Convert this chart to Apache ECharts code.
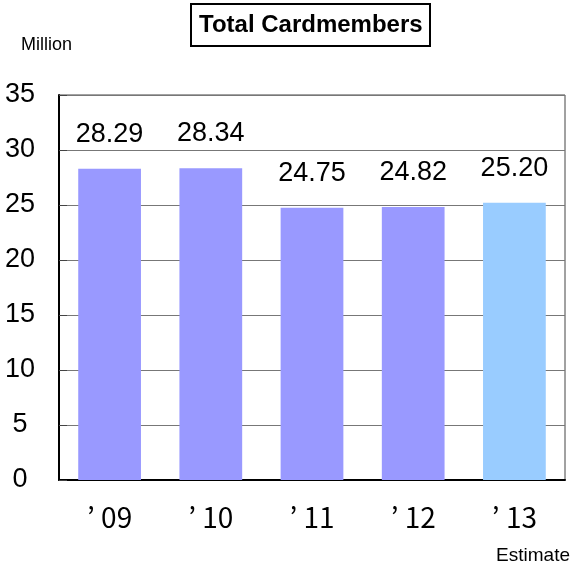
<!DOCTYPE html>
<html>
<head>
<meta charset="utf-8">
<script src="https://cdn.jsdelivr.net/npm/echarts@6/dist/echarts.min.js"></script>
<style>
  html, body { margin: 0; padding: 0; background: #fff; }
  #main { width: 571px; height: 571px; }
</style>
</head>
<body>
<div id="main"></div>
<script>
// chart data
var years = ['\u201909', '\u201910', '\u201911', '\u201912', '\u201913'];
var members = [28.29, 28.34, 24.75, 24.82, 25.20];
var barColors = ['#9999FF', '#9999FF', '#9999FF', '#9999FF', '#99CCFF'];
var yTicks = [0, 5, 10, 15, 20, 25, 30, 35];

var font = '"Liberation Sans", Arial, sans-serif';
var jpFont = '"Noto Sans CJK JP", sans-serif';

var chart = echarts.init(document.getElementById('main'));
chart.setOption({
    animation: false,
    title: {
        text: 'Total Cardmembers',
        left: 191,
        top: 4,
        borderColor: '#000',
        borderWidth: 2,
        padding: [9, 8, 9, 8],
        textStyle: { fontFamily: font, fontSize: 24, fontWeight: 'bold', color: '#000' }
    },
    graphic: [
        { type: 'text', left: 21, top: 36, style: { text: 'Million', font: '18px ' + font, fill: '#000' } },
        { type: 'text', right: 1, top: 546, style: { text: 'Estimate', font: '19px ' + font, fill: '#000' } }
    ],
    grid: {
        left: 59, right: 6, top: 95, bottom: 91,
        show: true, borderColor: '#444', borderWidth: 1
    },
    xAxis: {
        type: 'category',
        data: years,
        axisLine: { lineStyle: { color: '#000', width: 2 } },
        axisTick: { inside: true, length: 8, lineStyle: { color: '#666' } },
        axisLabel: {
            margin: 23, fontFamily: jpFont, fontSize: 28, color: '#000',
            formatter: function (v) { return v.replace('\u2019', '\u2019 '); }
        }
    },
    yAxis: {
        type: 'value',
        min: yTicks[0],
        max: yTicks[yTicks.length - 1],
        interval: 5,
        axisLine: { show: true, lineStyle: { color: '#000', width: 2 } },
        axisTick: { show: true, inside: true, length: 8, lineStyle: { color: '#444' } },
        splitLine: { lineStyle: { color: '#777', width: 1 } },
        axisLabel: { margin: 39, align: 'center', fontFamily: font, fontSize: 27, color: '#000' }
    },
    series: [{
        type: 'bar',
        barWidth: '62%',
        data: members.map(function (v, i) {
            return { value: v, itemStyle: { color: barColors[i] } };
        }),
        label: {
            show: true,
            position: 'top',
            distance: 21,
            fontFamily: font,
            fontSize: 27,
            color: '#000',
            formatter: function (p) { return p.value.toFixed(2); }
        }
    }]
});
</script>
</body>
</html>
